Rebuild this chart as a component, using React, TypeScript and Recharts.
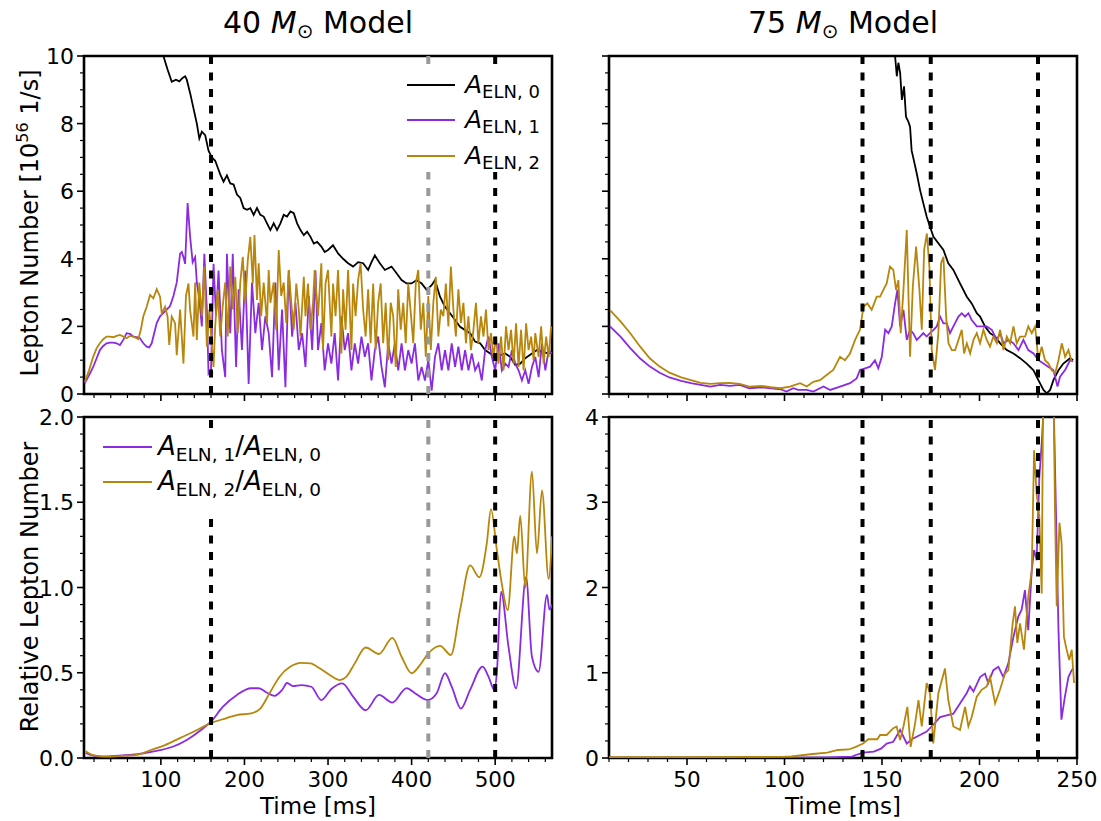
import React from 'react';
import { LineChart, Line, XAxis, YAxis, ReferenceLine, ReferenceArea } from 'recharts';

const W = 1101;
const H = 821;
const FONT = '"DejaVu Sans", sans-serif';
const BLACK = '#000000';
const PURPLE = '#8a2be2';
const GOLD = '#b8860b';
const GREY = '#999999';

// ---- 40 Msun, top panel: [time ms, 10^56 1/s]
const a0_40 = [[90, 11.0], [103, 10.0], [108, 9.6], [113, 9.24], [118, 9.3], [122, 9.25], [126, 9.35], [129, 9.4], [131, 9.3], [135, 8.9], [139, 8.45], [143, 8.0], [146, 7.56], [149, 7.76], [153, 7.66], [157, 7.2], [161, 7.0], [165, 6.9], [168, 6.7], [171, 6.5], [175, 6.28], [179, 6.47], [183, 6.23], [187, 6.2], [191, 5.9], [195, 5.8], [199, 5.5], [203, 5.45], [207, 5.5], [211, 5.3], [215, 5.5], [219, 5.3], [223, 5.25], [227, 5.05], [231, 4.85], [235, 5.05], [239, 4.85], [243, 5.05], [247, 5.3], [251, 5.25], [255, 5.4], [259, 5.35], [263, 5.05], [267, 4.85], [271, 4.7], [275, 4.8], [279, 4.65], [283, 4.45], [287, 4.5], [292, 4.36], [296, 4.2], [300, 4.26], [306, 4.4], [312, 4.16], [318, 4.0], [324, 3.87], [330, 3.77], [336, 3.9], [342, 3.87], [348, 3.67], [352, 3.9], [356, 4.1], [362, 3.87], [368, 3.67], [376, 3.77], [382, 3.57], [388, 3.37], [394, 3.27], [400, 3.27], [406, 3.37], [412, 3.27], [418, 3.08], [424, 3.22], [428, 3.37], [434, 2.88], [440, 2.58], [446, 2.39], [452, 2.19], [458, 1.99], [464, 1.89], [470, 1.8], [476, 1.55], [482, 1.5], [488, 1.3], [494, 1.2], [500, 1.06], [506, 1.15], [512, 1.2], [518, 1.1], [524, 0.86], [530, 0.9], [536, 1.06], [544, 1.2], [550, 1.3], [556, 1.25], [564, 1.2], [568, 1.25]];

const a1_40 = [[9, 0.32], [14, 0.55], [19, 0.8], [23, 1.05], [27, 1.3], [31, 1.42], [35, 1.5], [39, 1.52], [43, 1.52], [47, 1.5], [51, 1.45], [55, 1.6], [59, 1.8], [63, 1.78], [67, 1.7], [71, 1.68], [75, 1.65], [79, 1.5], [83, 1.4], [86, 1.38], [89, 1.5], [92, 1.8], [95, 2.1], [99, 2.3], [103, 2.4], [107, 2.5], [111, 2.6], [115, 2.9], [119, 3.3], [123, 4.15], [125, 4.2], [127, 4.05], [129, 3.85], [132, 5.65], [135, 4.65], [138, 3.9], [141, 4.05], [143, 3.3], [146, 2.8], [149, 2.0], [152, 4.15], [155, 2.5], [157, 0.6], [160, 0.7], [163, 3.85], [166, 2.3], [169, 3.65], [173, 1.3], [177, 0.5], [179, 4.15], [183, 1.8], [186, 4.15], [190, 0.8], [193, 3.1], [197, 1.3], [201, 3.65], [205, 0.3], [209, 3.3], [213, 1.8], [217, 2.7], [221, 1.3], [225, 2.3], [229, 1.8], [233, 0.5], [237, 3.3], [241, 0.7], [245, 2.5], [249, 0.2], [253, 3.65], [257, 1.7], [261, 2.7], [265, 1.3], [269, 1.8], [273, 0.8], [277, 2.9], [281, 1.3], [285, 3.65], [288, 1.3], [292, 2.1], [296, 0.7], [300, 1.5], [304, 0.9], [308, 1.8], [312, 0.4], [316, 2.3], [320, 1.3], [324, 1.8], [328, 0.7], [332, 1.5], [336, 0.9], [340, 1.7], [344, 1.1], [348, 1.5], [352, 0.4], [356, 1.3], [360, 1.7], [364, 0.8], [368, 0.2], [372, 1.5], [376, 0.9], [380, 1.5], [384, 0.7], [388, 1.5], [392, 0.7], [396, 1.3], [400, 0.9], [404, 1.5], [408, 0.4], [412, 0.8], [416, 0.4], [420, 1.0], [424, 0.1], [428, 1.1], [432, 1.5], [436, 0.7], [440, 1.3], [444, 0.7], [448, 1.5], [452, 0.8], [456, 1.4], [460, 0.7], [464, 1.3], [468, 0.7], [472, 1.2], [476, 0.7], [480, 0.9], [484, 0.4], [488, 1.3], [492, 1.7], [496, 1.1], [500, 0.7], [504, 1.5], [508, 0.7], [512, 0.9], [516, 0.8], [520, 1.3], [524, 0.9], [528, 0.7], [532, 0.4], [536, 0.7], [540, 0.3], [544, 0.8], [548, 1.1], [552, 0.5], [556, 1.5], [560, 0.7], [564, 1.3], [568, 1.2]];

const a2_40 = [[9, 0.36], [14, 0.7], [19, 1.1], [23, 1.35], [27, 1.5], [31, 1.62], [35, 1.7], [39, 1.7], [43, 1.68], [47, 1.72], [51, 1.75], [55, 1.7], [59, 1.65], [63, 1.72], [67, 1.7], [73, 1.62], [76, 1.9], [79, 2.3], [83, 2.58], [87, 2.93], [91, 2.83], [95, 3.1], [99, 2.88], [101, 2.39], [105, 2.58], [108, 2.29], [110, 1.45], [113, 2.29], [117, 2.09], [119, 1.15], [123, 2.5], [127, 0.9], [130, 2.9], [133, 3.27], [135, 2.48], [139, 1.7], [141, 3.3], [143, 1.6], [146, 3.3], [149, 2.3], [152, 3.77], [155, 1.4], [158, 2.5], [161, 1.4], [163, 0.8], [165, 2.0], [168, 3.1], [171, 1.7], [174, 2.6], [177, 3.3], [180, 1.7], [183, 3.77], [186, 2.5], [189, 3.47], [192, 1.8], [195, 3.3], [198, 4.06], [201, 2.7], [204, 3.96], [207, 4.65], [210, 3.27], [212, 4.7], [215, 2.78], [217, 3.87], [220, 2.3], [223, 3.3], [227, 2.1], [229, 3.67], [231, 2.7], [235, 3.3], [238, 1.9], [241, 4.26], [244, 2.9], [247, 3.3], [250, 2.1], [253, 3.67], [256, 2.7], [259, 1.9], [262, 3.27], [265, 2.5], [267, 1.7], [271, 3.47], [273, 2.3], [276, 3.27], [279, 1.9], [282, 2.7], [284, 3.67], [288, 2.3], [292, 3.87], [294, 1.3], [297, 3.27], [300, 3.67], [304, 1.7], [306, 3.27], [309, 2.3], [312, 3.67], [316, 1.2], [318, 3.1], [321, 1.9], [324, 3.67], [328, 1.3], [330, 3.27], [333, 2.3], [336, 3.37], [339, 3.87], [342, 2.5], [345, 1.7], [348, 3.1], [351, 1.5], [354, 3.27], [357, 1.3], [360, 2.7], [363, 3.27], [366, 1.5], [369, 2.7], [372, 1.0], [375, 2.7], [378, 2.3], [381, 0.8], [384, 3.1], [387, 1.9], [390, 2.7], [393, 1.5], [396, 3.27], [399, 2.4], [402, 1.5], [405, 3.27], [408, 3.67], [411, 1.9], [414, 2.7], [417, 1.1], [420, 2.9], [423, 1.3], [426, 2.7], [429, 3.47], [432, 1.7], [435, 2.5], [438, 2.3], [441, 3.27], [444, 2.0], [447, 3.77], [450, 2.5], [453, 1.7], [456, 3.1], [459, 2.1], [462, 2.7], [465, 1.5], [468, 2.3], [471, 1.3], [474, 1.9], [477, 2.7], [480, 1.5], [483, 2.3], [486, 1.7], [489, 2.5], [492, 1.3], [495, 1.8], [498, 1.1], [501, 1.7], [504, 0.9], [507, 1.7], [510, 0.7], [513, 2.0], [516, 1.3], [519, 1.9], [522, 0.9], [525, 2.09], [528, 0.8], [531, 1.9], [534, 0.7], [537, 2.09], [540, 1.3], [543, 1.7], [546, 1.0], [548, 1.8], [552, 1.1], [555, 2.0], [558, 0.9], [561, 1.7], [564, 1.1], [567, 2.0]];

// ---- 40 Msun, bottom panel: ratios
const r1_40 = [[10, 0.03], [18, 0.015], [28, 0.008], [45, 0.012], [62, 0.018], [79, 0.027], [96, 0.043], [114, 0.066], [131, 0.106], [148, 0.164], [161, 0.219], [174, 0.3], [191, 0.37], [208, 0.409], [217, 0.409], [227, 0.383], [236, 0.364], [245, 0.399], [251, 0.44], [258, 0.422], [268, 0.428], [280, 0.418], [292, 0.34], [304, 0.405], [317, 0.438], [330, 0.36], [345, 0.28], [361, 0.37], [377, 0.325], [394, 0.41], [404, 0.38], [419, 0.34], [430, 0.38], [440, 0.497], [448, 0.418], [459, 0.29], [470, 0.4], [485, 0.536], [492, 0.477], [499, 0.4], [502, 0.5], [507, 0.976], [516, 0.65], [525, 0.409], [537, 1.06], [544, 0.594], [552, 0.506], [562, 0.956], [565, 0.87], [568, 0.9]];

const r2_40 = [[10, 0.04], [17, 0.02], [24, 0.012], [36, 0.008], [54, 0.012], [71, 0.018], [88, 0.047], [105, 0.076], [122, 0.115], [139, 0.154], [161, 0.207], [178, 0.233], [191, 0.252], [208, 0.262], [219, 0.29], [230, 0.379], [242, 0.477], [255, 0.536], [268, 0.558], [279, 0.555], [290, 0.526], [302, 0.487], [314, 0.457], [322, 0.477], [332, 0.555], [345, 0.648], [361, 0.61], [377, 0.705], [388, 0.594], [400, 0.497], [410, 0.545], [420, 0.614], [434, 0.658], [447, 0.604], [458, 0.868], [470, 1.13], [481, 1.06], [490, 1.26], [495, 1.46], [502, 1.22], [508, 1.02], [515, 0.868], [523, 1.3], [526, 1.2], [530, 1.42], [536, 1.0], [544, 1.68], [550, 1.2], [556, 1.57], [564, 1.05], [568, 1.3]];

// ---- 75 Msun, top panel
const a0_75 = [[150, 12.5], [156.7, 10.0], [157.6, 9.4], [158.4, 9.8], [159.3, 9.5], [160.2, 8.7], [161.3, 9.1], [162.3, 8.2], [163.5, 8.06], [164.4, 7.9], [165.2, 7.2], [166, 7.0], [167.8, 6.53], [169.5, 6.04], [171.2, 5.64], [172.9, 5.25], [174.6, 4.95], [176.4, 4.65], [178.9, 4.46], [181.5, 4.26], [184, 3.87], [186.6, 3.67], [190, 3.27], [193.5, 2.88], [196, 2.68], [198.6, 2.39], [200.3, 2.29], [202.9, 1.99], [205.4, 1.8], [208, 1.7], [210.6, 1.5], [214, 1.3], [217.4, 1.2], [220.8, 1.06], [224.2, 0.9], [227.7, 0.7], [230.2, 0.41], [232.8, 0.12], [234.5, 0.02], [236.2, 0.12], [237.9, 0.41], [240.5, 0.7], [243, 0.9], [246.5, 1.06], [248, 1.0]];

const a1_75 = [[10.5, 2.0], [16, 1.69], [21, 1.35], [26, 1.05], [31, 0.81], [36, 0.63], [41, 0.49], [47, 0.39], [52, 0.32], [57, 0.27], [62, 0.22], [67, 0.27], [72, 0.24], [77, 0.27], [82, 0.17], [88, 0.2], [93, 0.17], [98, 0.14], [101, 0.07], [104.5, 0.17], [107, 0.12], [111.4, 0.12], [114.8, 0.07], [120, 0.22], [123.4, 0.12], [128.5, 0.22], [133.6, 0.32], [137, 0.46], [138.7, 0.71], [141.3, 0.76], [143.9, 0.81], [146.4, 1.0], [148.1, 0.76], [149.9, 1.1], [151.6, 1.9], [153.3, 1.8], [155, 2.0], [156.7, 2.68], [157.9, 3.08], [159.3, 2.0], [161, 2.49], [162.7, 1.6], [164.4, 1.9], [166, 1.8], [167.8, 1.6], [169.5, 1.7], [171.2, 1.8], [172.9, 1.7], [174.6, 1.8], [176.4, 1.9], [178.1, 2.0], [179.8, 2.29], [181.5, 2.09], [183.2, 2.09], [184.9, 1.8], [186.6, 2.0], [189.2, 2.29], [190.9, 2.39], [192.6, 2.29], [194.3, 2.39], [196, 2.19], [198.6, 2.0], [201.2, 2.0], [203.7, 2.0], [206.3, 1.9], [208.9, 1.6], [210.6, 1.8], [212.3, 1.5], [214.8, 1.6], [217.4, 1.5], [220, 1.3], [222.5, 1.6], [225, 1.3], [227.7, 1.2], [230.2, 1.0], [232.8, 0.9], [235.4, 0.8], [237.9, 0.71], [240, 0.22], [241.3, 0.51], [243.9, 0.71], [246.5, 1.0], [248, 0.96]];

const a2_75 = [[10.5, 2.48], [16, 2.14], [21, 1.79], [26, 1.4], [31, 1.05], [36, 0.81], [41, 0.63], [47, 0.49], [52, 0.41], [57, 0.33], [62, 0.3], [67, 0.32], [72, 0.33], [77, 0.3], [82, 0.22], [88, 0.24], [93, 0.2], [98, 0.17], [102.8, 0.22], [108, 0.32], [111.4, 0.22], [114.8, 0.36], [118.2, 0.41], [121.6, 0.56], [125, 0.71], [128.5, 1.1], [131, 1.0], [133.6, 1.2], [136.2, 1.6], [138.7, 1.9], [140.5, 2.58], [142.5, 2.68], [144.7, 2.49], [147.3, 2.88], [149, 2.88], [150.7, 3.08], [152.4, 3.27], [154.1, 3.77], [155.8, 3.67], [157.2, 3.08], [158.4, 3.37], [159.6, 1.8], [161, 3.08], [162.7, 4.85], [164.4, 1.1], [165.8, 3.18], [167.5, 4.36], [169.2, 3.08], [170.4, 1.9], [171.6, 4.26], [173, 4.75], [174.3, 3.77], [175.5, 1.3], [177.2, 0.71], [178.9, 1.8], [180.3, 3.87], [181.5, 4.06], [182.9, 2.29], [184.1, 1.5], [185.8, 1.3], [187.5, 1.3], [189.2, 1.6], [190.9, 1.9], [192.1, 1.2], [193.5, 1.5], [195.2, 1.2], [196.9, 1.6], [198.6, 1.8], [200.3, 1.5], [202, 1.9], [203.7, 1.6], [205.4, 1.4], [207.1, 1.7], [208.9, 1.5], [210.6, 1.9], [212.3, 1.3], [214, 1.7], [215.7, 1.5], [217.4, 2.0], [219.1, 1.5], [220.8, 1.7], [223.4, 1.7], [225, 2.0], [226.8, 1.8], [228.5, 2.0], [230.2, 1.0], [231.9, 1.4], [233.6, 1.0], [235.4, 0.9], [237, 0.71], [238.8, 0.61], [240.5, 1.0], [242.2, 1.5], [243.9, 1.1], [245.6, 1.3], [247.3, 0.96]];

// ---- 75 Msun, bottom panel: ratios
const r1_75 = [[10, 0.005], [50, 0.005], [100, 0.005], [121.9, 0.008], [134.7, 0.016], [136.6, 0.035], [140.3, 0.063], [145.8, 0.074], [149.5, 0.11], [152.4, 0.17], [155.8, 0.19], [159.3, 0.33], [162.7, 0.17], [166, 0.23], [169.5, 0.27], [172.9, 0.31], [176.3, 0.39], [179.8, 0.48], [183.2, 0.5], [186.6, 0.52], [190, 0.64], [193.4, 0.76], [195.1, 0.84], [196.9, 0.78], [200.3, 0.95], [202.8, 0.99], [204.5, 0.88], [207.1, 1.03], [209.7, 1.07], [212.2, 0.95], [214.8, 1.11], [217.4, 1.42], [219.9, 1.66], [221.6, 1.74], [223.3, 1.97], [225, 1.5], [226.8, 2.2], [228, 2.44], [229.3, 2.32], [230.7, 3.3], [231.9, 3.69], [235, 5.0], [238, 4.2], [240.5, 1.5], [242, 0.45], [243.8, 0.72], [245.6, 0.95], [247.3, 1.03], [248.1, 1.05]];

const r2_75 = [[10, 0.01], [50, 0.01], [100, 0.015], [103.5, 0.02], [114.5, 0.047], [121.9, 0.063], [127.4, 0.094], [132.9, 0.1], [136.6, 0.13], [140.3, 0.17], [143, 0.22], [147.6, 0.22], [149, 0.27], [152.4, 0.27], [155.8, 0.35], [157.5, 0.37], [159.3, 0.21], [161, 0.37], [163, 0.6], [164.7, 0.13], [167, 0.41], [168.7, 0.68], [170.4, 0.37], [172.9, 0.88], [174.6, 0.76], [176.3, 0.17], [178.9, 0.76], [182.3, 1.05], [184, 0.68], [186.6, 0.37], [190, 0.33], [192.6, 0.6], [194.3, 0.37], [196, 0.48], [198.6, 0.72], [201.1, 0.8], [203.7, 0.84], [205.4, 0.95], [208, 0.64], [210.5, 0.8], [213.1, 0.99], [214.8, 1.03], [217, 1.58], [218.2, 1.78], [219.4, 1.35], [220.8, 1.58], [222.8, 1.27], [225, 1.89], [226.8, 2.2], [228, 3.61], [229.3, 3.1], [230.7, 2.83], [231.9, 1.93], [232.7, 4.5], [235, 6.0], [237.9, 4.5], [238.7, 2.91], [239.6, 1.78], [241, 2.76], [242.1, 2.52], [243.3, 1.42], [244.7, 1.27], [246, 1.15], [247.3, 1.27], [248.5, 0.88]];

// ---- axes
const xLeftMajor = [100, 200, 300, 400, 500];
const xRightMajor = [50, 100, 150, 200, 250];
const yTopMajor = [0, 2, 4, 6, 8, 10];
const yRatio40Major = [0, 0.5, 1.0, 1.5, 2.0];
const yRatio75Major = [0, 1, 2, 3, 4];
const lines40 = [160, 500];
const greyLines40 = [420];
const lines75 = [140, 175, 230];

const steps = (from: number, to: number, step: number) => {
  const n = Math.round((to - from) / step);
  return Array.from({ length: n + 1 }, (_, i) => +(from + i * step).toFixed(4));
};

const pts = (arr: number[][]) => arr.map(([t, v]) => ({ t, v }));
const isMajor = (majors: number[], v: number) => majors.some((m) => Math.abs(m - v) < 1e-6);

// axis boxes are 1px thick (recharts skips drawing an axis of size 0)
const makeXTick = (majors: number[], labels: boolean) => (p: any) => {
  const v = p.payload.value;
  const major = isMajor(majors, v);
  return (
    <g>
      <line x1={p.x} x2={p.x} y1={p.y} y2={p.y + (major ? 7 : 4)} stroke="#000" strokeWidth={major ? 1.6 : 1.2} />
      {major && labels && (
        <text x={p.x} y={p.y + 29} textAnchor="middle" fontSize={21.5} fontFamily={FONT} fill="#000">{v}</text>
      )}
    </g>
  );
};

const makeYTick = (majors: number[], labels: boolean, digits: number) => (p: any) => {
  const v = p.payload.value;
  const major = isMajor(majors, v);
  return (
    <g>
      <line x1={p.x - (major ? 7 : 4)} x2={p.x} y1={p.y} y2={p.y} stroke="#000" strokeWidth={major ? 1.6 : 1.2} />
      {major && labels && (
        <text x={p.x - 10} y={p.y + 8} textAnchor="end" fontSize={22} fontFamily={FONT} fill="#000">{v.toFixed(digits)}</text>
      )}
    </g>
  );
};

type Series = { data: number[][]; color: string; smooth?: boolean };

function Panel(props: {
  box: { left: number; top: number; right: number; bottom: number };
  xDomain: [number, number];
  yDomain: [number, number];
  xTicks: number[];
  xMajor: number[];
  xLabels: boolean;
  yTicks: number[];
  yMajor: number[];
  yLabels: boolean;
  yDigits: number;
  series: Series[];
  dashed: number[];
  grey?: number[];
}) {
  const { box, xDomain, yDomain } = props;
  return (
    <div style={{ position: 'absolute', left: 0, top: 0 }}>
      <LineChart
        width={W}
        height={H}
        margin={{ top: box.top, left: box.left - 1, right: W - box.right, bottom: H - box.bottom - 1 }}
      >
        <XAxis
          type="number"
          dataKey="t"
          domain={xDomain}
          allowDataOverflow
          ticks={props.xTicks}
          interval={0}
          height={1}
          tickSize={0}
          tickMargin={0}
          axisLine={false}
          tickLine={false}
          tick={makeXTick(props.xMajor, props.xLabels)}
        />
        <YAxis
          type="number"
          dataKey="v"
          domain={yDomain}
          allowDataOverflow
          ticks={props.yTicks}
          interval={0}
          width={1}
          tickSize={0}
          tickMargin={0}
          axisLine={false}
          tickLine={false}
          tick={makeYTick(props.yMajor, props.yLabels, props.yDigits)}
        />
        {props.series.map((s, i) => (
          <Line
            key={i}
            data={pts(s.data)}
            dataKey="v"
            type={s.smooth ? 'monotone' : 'linear'}
            stroke={s.color}
            strokeWidth={1.8}
            dot={false}
            activeDot={false}
            isAnimationActive={false}
          />
        ))}
        {(props.grey || []).map((x) => (
          <ReferenceLine key={'g' + x} x={x} stroke={GREY} strokeWidth={4} strokeDasharray="8 8.5" />
        ))}
        {props.dashed.map((x) => (
          <ReferenceLine key={'d' + x} x={x} stroke="#000" strokeWidth={4} strokeDasharray="8 8.5" />
        ))}
        <ReferenceArea x1={xDomain[0]} x2={xDomain[1]} y1={yDomain[0]} y2={yDomain[1]} fill="none" stroke="#000" strokeWidth={2.6} />
      </LineChart>
    </div>
  );
}

const Sub = ({ children, size }: { children: React.ReactNode; size: number }) => (
  <tspan fontSize={size} dy={size * 0.3}>{children}</tspan>
);

export default function App() {
  const xLeft = steps(20, 560, 20);
  const xRight = steps(10, 250, 10);
  const yTop = steps(0, 10, 0.5);
  const yR40 = steps(0, 2, 0.1);
  const yR75 = steps(0, 4, 0.2);
  const left = { left: 84, right: 552 };
  const right = { left: 609, right: 1077 };
  const top = { top: 56, bottom: 394 };
  const bottom = { top: 417, bottom: 758 };

  return (
    <div style={{ position: 'absolute', left: 0, top: 0, width: W, height: H, background: '#fff', fontFamily: FONT }}>
      <Panel
        box={{ ...left, ...top }}
        xDomain={[8, 568]}
        yDomain={[0, 10]}
        xTicks={xLeft}
        xMajor={xLeftMajor}
        xLabels={false}
        yTicks={yTop}
        yMajor={yTopMajor}
        yLabels
        yDigits={0}
        series={[
          { data: a0_40, color: BLACK },
          { data: a1_40, color: PURPLE },
          { data: a2_40, color: GOLD },
        ]}
        dashed={lines40}
        grey={greyLines40}
      />
      <Panel
        box={{ ...left, ...bottom }}
        xDomain={[8, 568]}
        yDomain={[0, 2]}
        xTicks={xLeft}
        xMajor={xLeftMajor}
        xLabels
        yTicks={yR40}
        yMajor={yRatio40Major}
        yLabels
        yDigits={1}
        series={[
          { data: r1_40, color: PURPLE, smooth: true },
          { data: r2_40, color: GOLD, smooth: true },
        ]}
        dashed={lines40}
        grey={greyLines40}
      />
      <Panel
        box={{ ...right, ...top }}
        xDomain={[10, 250]}
        yDomain={[0, 10]}
        xTicks={xRight}
        xMajor={xRightMajor}
        xLabels={false}
        yTicks={yTop}
        yMajor={yTopMajor}
        yLabels={false}
        yDigits={0}
        series={[
          { data: a0_75, color: BLACK },
          { data: a1_75, color: PURPLE },
          { data: a2_75, color: GOLD },
        ]}
        dashed={lines75}
      />
      <Panel
        box={{ ...right, ...bottom }}
        xDomain={[10, 250]}
        yDomain={[0, 4]}
        xTicks={xRight}
        xMajor={xRightMajor}
        xLabels
        yTicks={yR75}
        yMajor={yRatio75Major}
        yLabels
        yDigits={0}
        series={[
          { data: r1_75, color: PURPLE },
          { data: r2_75, color: GOLD },
        ]}
        dashed={lines75}
      />

      <svg width={W} height={H} style={{ position: 'absolute', left: 0, top: 0, pointerEvents: 'none' }} fontFamily={FONT}>
        <text x={318} y={33} textAnchor="middle" fontSize={30}>
          40{' '}<tspan fontStyle="italic">M</tspan>
          <tspan fontSize={20} dy={5}>⊙</tspan>
          <tspan dy={-5}> Model</tspan>
        </text>
        <text x={843} y={33} textAnchor="middle" fontSize={30}>
          75{' '}<tspan fontStyle="italic">M</tspan>
          <tspan fontSize={20} dy={5}>⊙</tspan>
          <tspan dy={-5}> Model</tspan>
        </text>

        <text transform="translate(38,223) rotate(-90)" textAnchor="middle" fontSize={24}>
          Lepton Number [10<tspan fontSize={16} dy={-10}>56</tspan>
          <tspan dy={10}> 1/s]</tspan>
        </text>
        <text transform="translate(38,587) rotate(-90)" textAnchor="middle" fontSize={24}>
          Relative Lepton Number
        </text>
        <text x={318} y={814} textAnchor="middle" fontSize={23}>Time [ms]</text>
        <text x={843} y={814} textAnchor="middle" fontSize={23}>Time [ms]</text>

        <rect x={398} y={66} width={152} height={106} fill="#fff" />
        {[
          { c: BLACK, k: '0', y: 85 },
          { c: PURPLE, k: '1', y: 120 },
          { c: GOLD, k: '2', y: 156 },
        ].map((r) => (
          <g key={r.k}>
            <line x1={407} x2={455} y1={r.y} y2={r.y} stroke={r.c} strokeWidth={1.8} />
            <text x={465} y={r.y + 8} fontSize={25}>
              <tspan fontStyle="italic">A</tspan>
              <Sub size={18}>ELN, {r.k}</Sub>
            </text>
          </g>
        ))}

        <rect x={94} y={429} width={240} height={83} fill="#fff" />
        {[
          { c: PURPLE, k: '1', y: 447 },
          { c: GOLD, k: '2', y: 482 },
        ].map((r) => (
          <g key={r.k}>
            <line x1={103} x2={152} y1={r.y} y2={r.y} stroke={r.c} strokeWidth={1.8} />
            <text x={158} y={r.y + 8} fontSize={26}>
              <tspan fontStyle="italic">A</tspan>
              <Sub size={18.5}>ELN, {r.k}</Sub>
              <tspan dy={-5.55}>/</tspan>
              <tspan fontStyle="italic">A</tspan>
              <Sub size={18.5}>ELN, 0</Sub>
            </text>
          </g>
        ))}
      </svg>
    </div>
  );
}
